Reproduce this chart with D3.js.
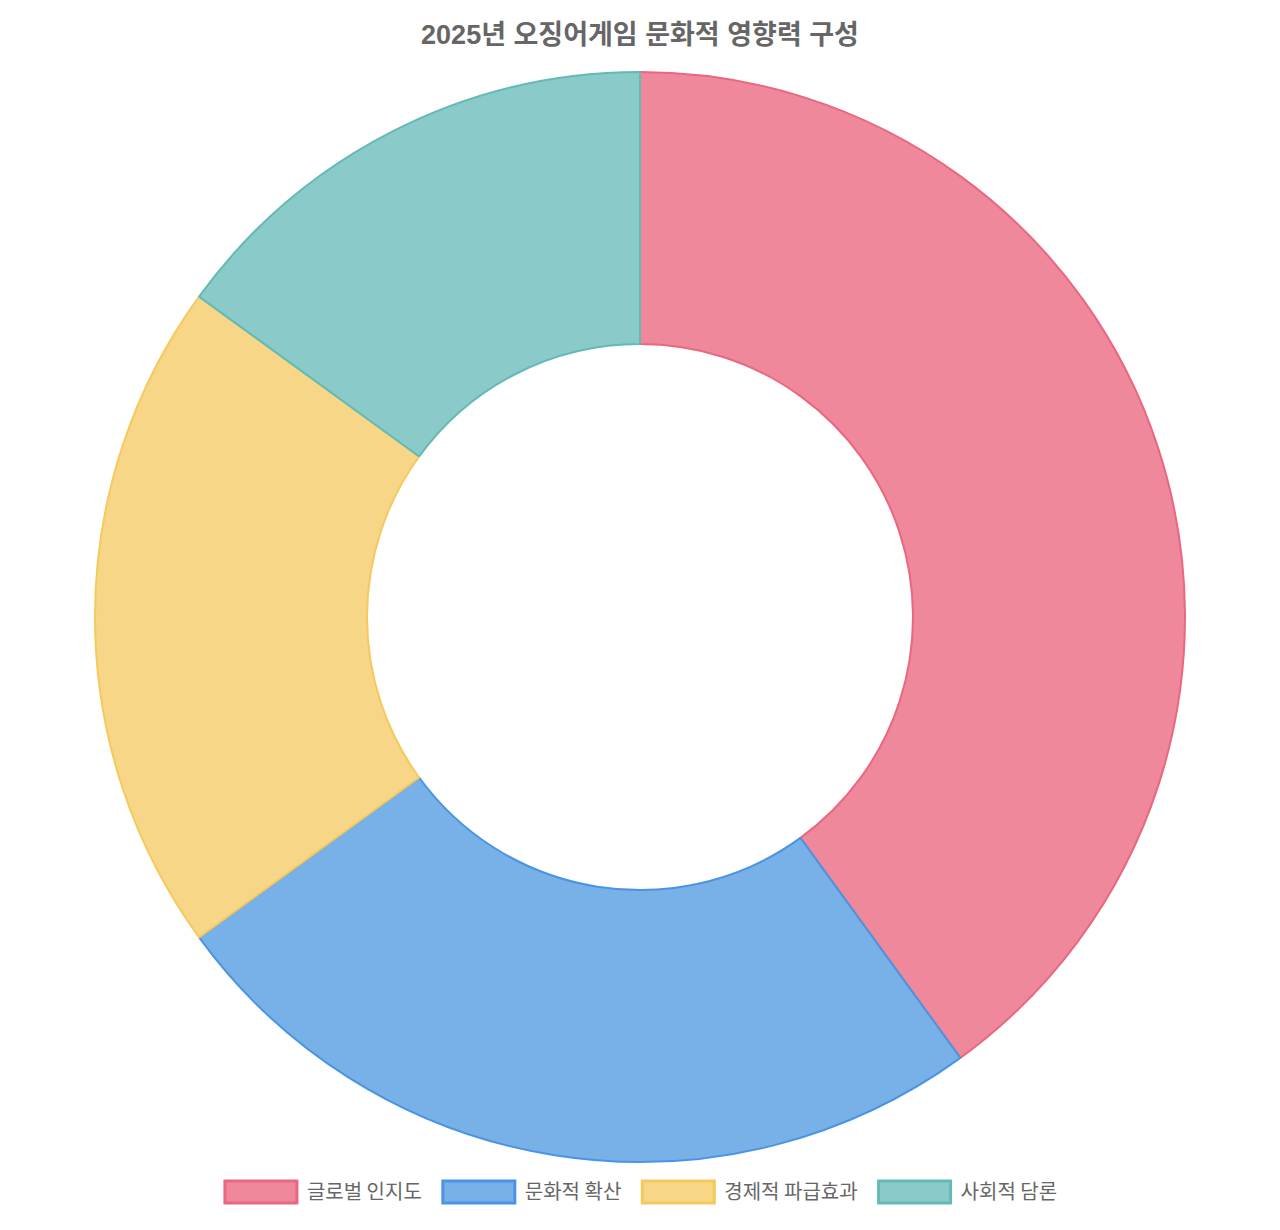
<!DOCTYPE html>
<html>
<head>
<meta charset="utf-8">
<script src="https://cdn.jsdelivr.net/npm/d3@7"></script>
<style>
  body { margin: 0; background: #fff; }
  svg { display: block; }
</style>
</head>
<body>
<div class="chart"></div>
<script>
// Data
var labels = ["글로벌 인지도", "문화적 확산", "경제적 파급효과", "사회적 담론"];
var values = [40, 25, 20, 15];
var fills = ["#f0889c", "#78b1e8", "#f7d687", "#8acbca"];
var strokes = ["#e9677f", "#4a94e2", "#f5c95c", "#62b9b6"];
var title = "2025년 오징어게임 문화적 영향력 구성";

// Config
var width = 1280;
var height = 1230;
var center = {x: 640, y: 617};
var outerR = 545;
var innerR = 273;

var svg = d3.select(".chart").append("svg")
    .attr("width", width)
    .attr("height", height);

// Title
svg.append("text")
    .attr("x", width / 2)
    .attr("y", 44)
    .attr("text-anchor", "middle")
    .attr("font-family", "'Liberation Sans', 'Noto Sans CJK KR', sans-serif")
    .attr("font-weight", "bold")
    .attr("font-size", 27)
    .attr("fill", "#666")
    .text(title);

// Doughnut
var pie = d3.pie().sort(null).value(function (d) { return d; });
var arc = d3.arc().innerRadius(innerR).outerRadius(outerR);

svg.append("g")
    .attr("transform", "translate(" + center.x + "," + center.y + ")")
    .selectAll("path")
    .data(pie(values))
    .enter().append("path")
    .attr("d", arc)
    .attr("fill", function (d, i) { return fills[i]; })
    .attr("stroke", function (d, i) { return strokes[i]; })
    .attr("stroke-width", 2)
    .attr("stroke-linejoin", "bevel");

// Legend
var boxW = 72, boxH = 22, textGap = 10, itemGap = 21, legendY = 1192;
var legend = svg.append("g");
var items = legend.selectAll("g")
    .data(labels)
    .enter().append("g");

items.append("rect")
    .attr("x", 1)
    .attr("y", -boxH / 2)
    .attr("width", boxW)
    .attr("height", boxH)
    .attr("fill", function (d, i) { return fills[i]; })
    .attr("stroke", function (d, i) { return strokes[i]; })
    .attr("stroke-width", 3);

items.append("text")
    .attr("x", boxW + textGap + 1)
    .attr("y", 0)
    .attr("dy", "0.35em")
    .attr("font-family", "'Noto Sans CJK KR', sans-serif")
    .attr("font-size", 20)
    .attr("fill", "#666")
    .text(function (d) { return d; });

var widths = [];
items.each(function () { widths.push(this.getBBox().width); });
var total = d3.sum(widths) + itemGap * (widths.length - 1);
var xPos = (width - total) / 2;
items.attr("transform", function (d, i) {
    var t = "translate(" + xPos + "," + legendY + ")";
    xPos += widths[i] + itemGap;
    return t;
});
</script>
</body>
</html>
